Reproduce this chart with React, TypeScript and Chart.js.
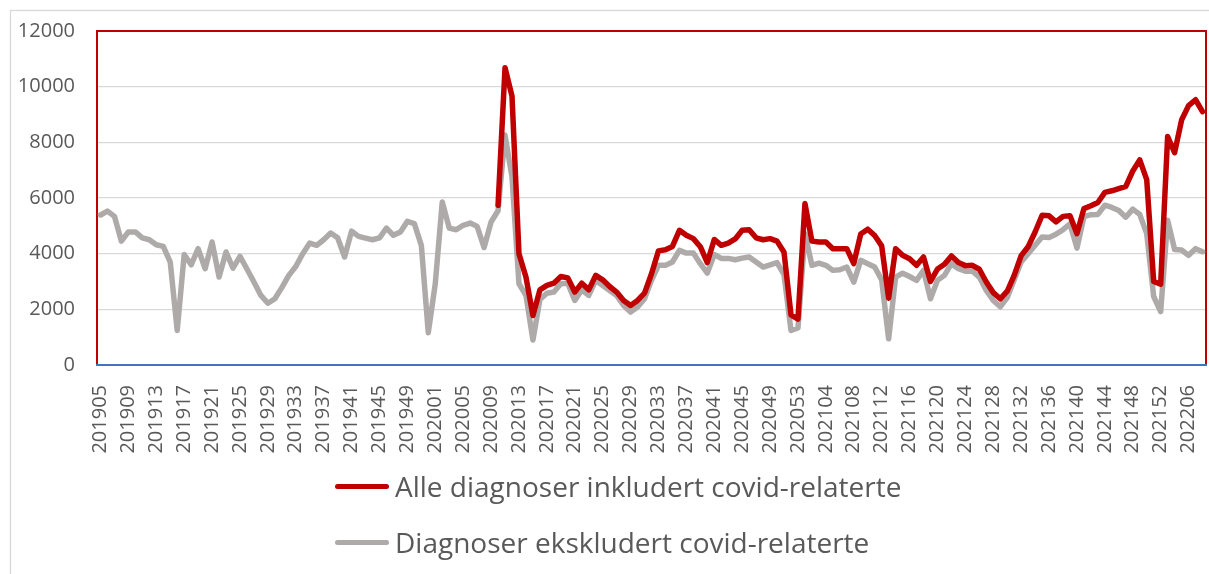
import React, { useEffect, useRef } from "react";
import { Chart, registerables } from "chart.js";

Chart.register(...registerables);

// ---------- data ----------
const WEEKS: string[] = [
  "201905","201906","201907","201908","201909","201910","201911","201912","201913","201914",
  "201915","201916","201917","201918","201919","201920","201921","201922","201923","201924",
  "201925","201926","201927","201928","201929","201930","201931","201932","201933","201934",
  "201935","201936","201937","201938","201939","201940","201941","201942","201943","201944",
  "201945","201946","201947","201948","201949","201950","201951","201952",
  "202001","202002","202003","202004","202005","202006","202007","202008","202009","202010",
  "202011","202012","202013","202014","202015","202016","202017","202018","202019","202020",
  "202021","202022","202023","202024","202025","202026","202027","202028","202029","202030",
  "202031","202032","202033","202034","202035","202036","202037","202038","202039","202040",
  "202041","202042","202043","202044","202045","202046","202047","202048","202049","202050",
  "202051","202052","202053",
  "202101","202102","202103","202104","202105","202106","202107","202108","202109","202110",
  "202111","202112","202113","202114","202115","202116","202117","202118","202119","202120",
  "202121","202122","202123","202124","202125","202126","202127","202128","202129","202130",
  "202131","202132","202133","202134","202135","202136","202137","202138","202139","202140",
  "202141","202142","202143","202144","202145","202146","202147","202148","202149","202150",
  "202151","202152",
  "202203","202204","202205","202206","202207","202208",
];

// Alle diagnoser inkludert covid-relaterte (starts in 2020)
const ALL_DIAGNOSES: (number | null)[] = [
  null, null, null, null, null, null, null, null, null, null,
  null, null, null, null, null, null, null, null, null, null,
  null, null, null, null, null, null, null, null, null, null,
  null, null, null, null, null, null, null, null, null, null,
  null, null, null, null, null, null, null, null, null, null,
  null, null, null, null, null, null, null, 5740, 10680, 9660,
  4000, 3160, 1780, 2700, 2860, 2940, 3180, 3130, 2620, 2940,
  2700, 3220, 3060, 2820, 2620, 2320, 2140, 2320, 2580, 3280,
  4100, 4140, 4260, 4840, 4660, 4540, 4250, 3680, 4510, 4300,
  4380, 4530, 4840, 4860, 4570, 4500, 4540, 4450, 4050, 1800,
  1650, 5800, 4450, 4420, 4420, 4180, 4180, 4180, 3640, 4710,
  4880, 4650, 4280, 2400, 4180, 3940, 3820, 3580, 3880, 3000,
  3450, 3620, 3920, 3680, 3570, 3580, 3440, 2980, 2600, 2380,
  2650, 3220, 3930, 4250, 4780, 5380, 5360, 5140, 5340, 5360,
  4720, 5620, 5720, 5840, 6200, 6260, 6340, 6420, 6970, 7370,
  6660, 3000, 2900, 8210, 7630, 8800, 9320, 9530, 9100,
];

// Diagnoser ekskludert covid-relaterte
const EXCL_COVID: number[] = [
  5390, 5530, 5340, 4450, 4780, 4780, 4570, 4500, 4320, 4260,
  3700, 1240, 3970, 3600, 4180, 3460, 4420, 3160, 4060, 3480,
  3900, 3450, 2980, 2500, 2220, 2380, 2780, 3220, 3540, 4000,
  4380, 4300, 4500, 4740, 4570, 3880, 4810, 4620, 4560, 4500,
  4570, 4920, 4660, 4780, 5160, 5080, 4300, 1160, 2920, 5860,
  4920, 4860, 5020, 5100, 4980, 4220, 5140, 5540, 8260, 6750,
  2920, 2500, 900, 2350, 2580, 2620, 2920, 2940, 2320, 2700,
  2500, 3040, 2860, 2680, 2500, 2140, 1900, 2080, 2380, 3040,
  3580, 3580, 3700, 4120, 4020, 4020, 3640, 3300, 3970, 3830,
  3830, 3780, 3840, 3880, 3700, 3520, 3600, 3680, 3250, 1240,
  1330, 4720, 3580, 3660, 3580, 3400, 3420, 3520, 2980, 3760,
  3640, 3520, 3060, 940, 3160, 3300, 3180, 3040, 3400, 2380,
  3040, 3220, 3640, 3460, 3370, 3370, 3160, 2680, 2320, 2090,
  2420, 3060, 3700, 4000, 4300, 4600, 4580, 4700, 4860, 5070,
  4200, 5330, 5400, 5410, 5740, 5660, 5550, 5310, 5600, 5410,
  4720, 2460, 1920, 5200, 4150, 4130, 3940, 4180, 4070,
];

const Y_TICKS: number[] = [0, 2000, 4000, 6000, 8000, 10000, 12000];
const LABEL_STEP = 4;
const SERIES_NAMES: string[] = [
  "Alle diagnoser inkludert covid-relaterte",
  "Diagnoser ekskludert covid-relaterte",
];
const SERIES_COLORS: string[] = ["#C00000", "#AEAAAA"];

// ---------- layout ----------
const W = 1209;
const H = 574;
const FONT = "'Open Sans', 'Liberation Sans', sans-serif";
const TEXT_COLOR = "#595959";

const framePlugin = {
  id: "frame",
  beforeDraw(chart: any) {
    const ctx = chart.ctx;
    ctx.save();
    ctx.fillStyle = "#ffffff";
    ctx.fillRect(0, 0, chart.width, chart.height);
    ctx.strokeStyle = "#D9D9D9";
    ctx.lineWidth = 1.3;
    ctx.strokeRect(10.5, 10.5, chart.width + 40, chart.height + 40);
    ctx.restore();
  },
  beforeDatasetsDraw(chart: any) {
    const ctx = chart.ctx;
    const { left, right, top, bottom } = chart.chartArea;
    ctx.save();
    ctx.strokeStyle = "#C00000";
    ctx.lineWidth = 2;
    ctx.beginPath();
    ctx.moveTo(left, bottom);
    ctx.lineTo(left, top);
    ctx.lineTo(right, top);
    ctx.lineTo(right, bottom);
    ctx.stroke();
    ctx.strokeStyle = "#4472C4";
    ctx.lineWidth = 2;
    ctx.beginPath();
    ctx.moveTo(left - 1, bottom);
    ctx.lineTo(right + 1, bottom);
    ctx.stroke();
    ctx.restore();
  },
};

export default function App() {
  const canvasRef = useRef<HTMLCanvasElement | null>(null);

  useEffect(() => {
    const canvas = canvasRef.current;
    if (!canvas) return;
    const chart = new Chart(canvas, {
      type: "line",
      data: {
        labels: WEEKS,
        datasets: [
          {
            label: SERIES_NAMES[0],
            data: ALL_DIAGNOSES,
            borderColor: SERIES_COLORS[0],
            backgroundColor: SERIES_COLORS[0],
            borderWidth: 5.5,
            pointRadius: 0,
            tension: 0,
            borderJoinStyle: "round",
            borderCapStyle: "round",
            spanGaps: false,
          },
          {
            label: SERIES_NAMES[1],
            data: EXCL_COVID,
            borderColor: SERIES_COLORS[1],
            backgroundColor: SERIES_COLORS[1],
            borderWidth: 5.5,
            pointRadius: 0,
            tension: 0,
            borderJoinStyle: "round",
            borderCapStyle: "round",
          },
        ],
      },
      options: {
        responsive: false,
        animation: false,
        devicePixelRatio: 1,
        layout: { padding: { left: 0, right: 3, top: 31, bottom: 0 } },
        plugins: {
          legend: { display: false },
          tooltip: { enabled: false },
        },
        scales: {
          x: {
            type: "category",
            offset: true,
            grid: { display: false, drawTicks: false },
            border: { display: false },
            ticks: {
              autoSkip: false,
              minRotation: 90,
              maxRotation: 90,
              padding: 20,
              color: TEXT_COLOR,
              font: { family: FONT, size: 20 },
              callback: (_v: any, i: number) =>
                i % LABEL_STEP === 0 ? WEEKS[i] : null,
            },
            afterFit: (s: any) => {
              s.height = H - 365;
              s.paddingLeft = 0;
              s.paddingRight = 0;
            },
          },
          y: {
            min: 0,
            max: 12000,
            afterBuildTicks: (s: any) => {
              s.ticks = Y_TICKS.map((v) => ({ value: v }));
            },
            grid: { color: "#D9D9D9", lineWidth: 1.3, drawTicks: false },
            border: { display: false },
            ticks: {
              padding: 22,
              color: TEXT_COLOR,
              font: { family: FONT, size: 20 },
              callback: (v: any) => String(v),
            },
            afterFit: (s: any) => {
              s.width = 97;
              s.paddingTop = 0;
              s.paddingBottom = 0;
            },
          },
        },
      },
      plugins: [framePlugin],
    });
    return () => chart.destroy();
  }, []);

  const legendRow = (i: number, top: number) => (
    <div
      key={i}
      style={{
        position: "absolute",
        left: 335,
        top,
        height: 40,
        display: "flex",
        alignItems: "center",
        whiteSpace: "nowrap",
      }}
    >
      <div
        style={{
          width: 54,
          height: 5,
          borderRadius: 3,
          background: SERIES_COLORS[i],
        }}
      />
      <span
        style={{
          marginLeft: 6,
          fontFamily: FONT,
          fontSize: 28,
          lineHeight: "40px",
          color: TEXT_COLOR,
        }}
      >
        {SERIES_NAMES[i]}
      </span>
    </div>
  );

  return (
    <div
      style={{
        position: "absolute",
        left: 0,
        top: 0,
        width: W,
        height: H,
        overflow: "hidden",
        background: "#fff",
      }}
    >
      <canvas
        ref={canvasRef}
        width={W}
        height={H}
        style={{ position: "absolute", left: 0, top: 0, width: W, height: H }}
      />
      {legendRow(0, 466)}
      {legendRow(1, 522)}
    </div>
  );
}
